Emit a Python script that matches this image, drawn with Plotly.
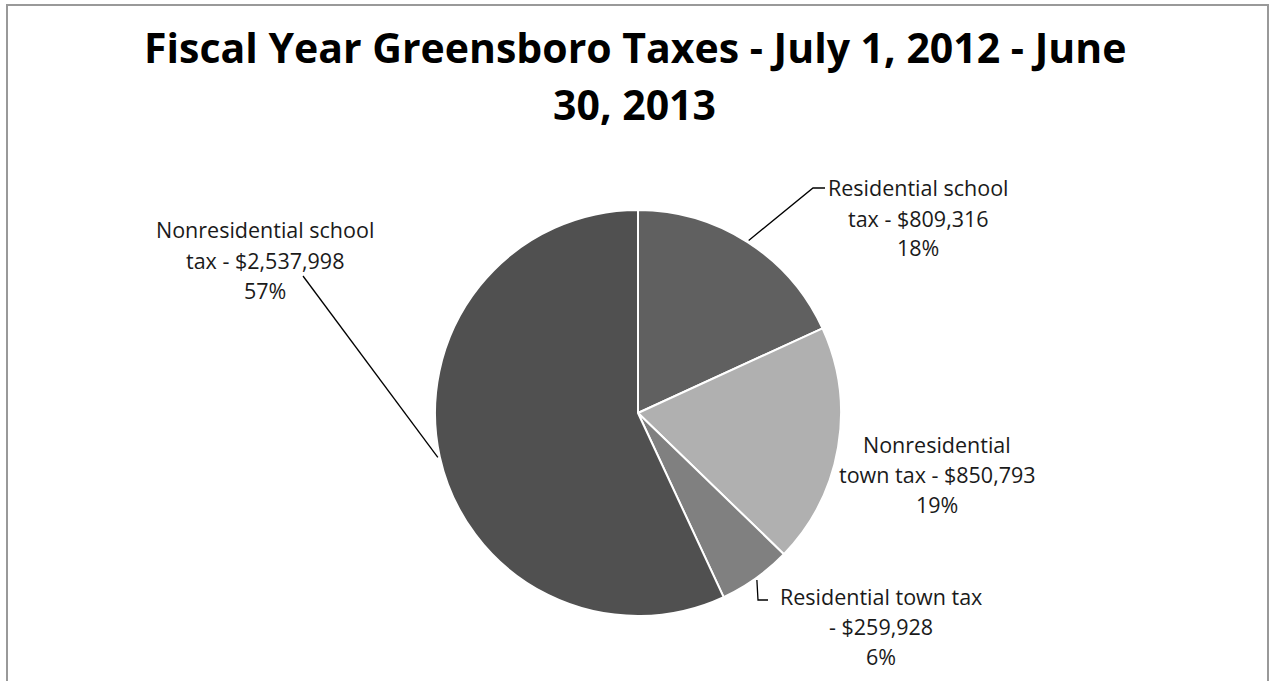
import math
import plotly.graph_objects as go

# ---------------- data ----------------
categories = ["Residential school tax", "Nonresidential town tax",
              "Residential town tax", "Nonresidential school tax"]
values = [809316, 850793, 259928, 2537998]
title_lines = ["Fiscal Year Greensboro Taxes - July 1, 2012 - June", "30, 2013"]

# ---------------- styling / layout ----------------
W, H = 1269, 681
colors = ["#606060", "#b0b0b0", "#808080", "#505050"]
FONT = "Open Sans"
CX, CY, R = 638, 413, 203  # pie centre / radius in px

# word count on first wrapped line of each label
wrap_words = [2, 1, 3, 2]
# label block centre (px) and leader-line ends (px) per slice
label_pos = [(918, 218), (937, 474), (881, 626), (265, 260)]
leader_pts = [[(813, 188), (825, 188)], None, [(758, 600), (768, 600)], [(303, 276)]]
LINE_H = 30


def px(x):
    return x / W


def py(y):
    return 1 - y / H


fig = go.Figure(go.Pie(
    labels=categories, values=values, sort=False, direction="clockwise",
    rotation=0, marker=dict(colors=colors, line=dict(color="white", width=2)),
    textinfo="none", hoverinfo="label+value+percent", showlegend=False,
    domain=dict(x=[px(CX - R), px(CX + R)], y=[py(CY + R), py(CY - R)]),
))

annotations = []
shapes = []
total = sum(values)
cum = 0
for i, (cat, v) in enumerate(zip(categories, values)):
    words = f"{cat} - ${v:,}".split(" ")
    lines = [" ".join(words[:wrap_words[i]]), " ".join(words[wrap_words[i]:]),
             f"{round(100 * v / total)}%"]
    lx, ly = label_pos[i]
    n = len(lines)
    for j, t in enumerate(lines):
        yy = ly + (j - (n - 1) / 2) * LINE_H
        annotations.append(dict(x=px(lx), y=py(yy), xref="paper", yref="paper",
                                text=t, showarrow=False, xanchor="center",
                                yanchor="middle",
                                font=dict(family=FONT, size=21.5, color="#1a1a1a")))
    # leader line from slice mid-angle, just outside the pie edge
    mid = (cum + v / 2) / total * 2 * math.pi
    cum += v
    if leader_pts[i]:
        ex = CX + (R + 2) * math.sin(mid)
        ey = CY - (R + 2) * math.cos(mid)
        pts = [(ex, ey)] + leader_pts[i]
        path = "M " + " L ".join(f"{px(a)},{py(b)}" for a, b in pts)
        shapes.append(dict(type="path", xref="paper", yref="paper", path=path,
                           line=dict(color="black", width=1.3)))

for k, t in enumerate(title_lines):
    annotations.append(dict(x=px(635), y=py(47 + 57 * k), xref="paper", yref="paper",
                            text=f"<b>{t}</b>", showarrow=False, xanchor="center",
                            yanchor="middle",
                            font=dict(family=FONT, size=41, color="black")))

# chart border
shapes.append(dict(type="rect", xref="paper", yref="paper",
                   x0=px(7), x1=px(1268), y0=-0.05, y1=py(5),
                   line=dict(color="#999999", width=2), layer="above"))

fig.update_layout(width=W, height=H, margin=dict(l=0, r=0, t=0, b=0),
                  paper_bgcolor="white", plot_bgcolor="white",
                  annotations=annotations, shapes=shapes)

fig.write_html("out.html", config={"displayModeBar": False},
               post_script="document.body.style.margin='0px';"
                           "document.body.style.overflow='hidden';")
